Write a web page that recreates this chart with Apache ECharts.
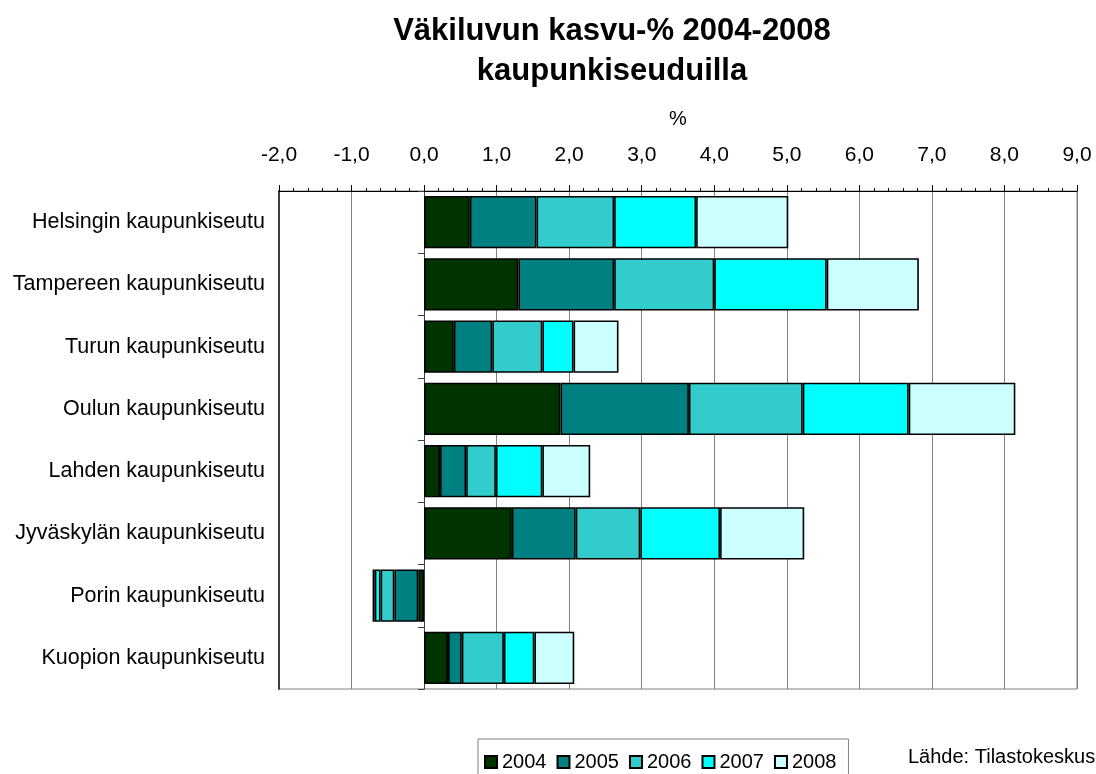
<!DOCTYPE html>
<html>
<head>
<meta charset="utf-8">
<script src="https://cdn.jsdelivr.net/npm/echarts@6/dist/echarts.min.js"></script>
<style>html,body{margin:0;padding:0;background:#fff}#chart{width:1096px;height:774px}</style>
</head>
<body>
<div id="chart"></div>
<script>
var categories = ['Helsingin kaupunkiseutu','Tampereen kaupunkiseutu','Turun kaupunkiseutu','Oulun kaupunkiseutu','Lahden kaupunkiseutu','Jyväskylän kaupunkiseutu','Porin kaupunkiseutu','Kuopion kaupunkiseutu'];
var years = ['2004','2005','2006','2007','2008'];
var v2004 = [0.63, 1.30, 0.41, 1.88, 0.22, 1.21, -0.08, 0.33];
var v2005 = [0.92, 1.32, 0.53, 1.77, 0.36, 0.88, -0.33, 0.19];
var v2006 = [1.07, 1.38, 0.69, 1.57, 0.41, 0.89, -0.19, 0.58];
var v2007 = [1.13, 1.55, 0.43, 1.46, 0.64, 1.10, -0.08, 0.42];
var v2008 = [1.27, 1.27, 0.62, 1.47, 0.66, 1.16, -0.03, 0.55];
var colors = ['#003300', '#008080', '#33CCCC', '#00FFFF', '#CCFFFF'];
var titleText = 'Väkiluvun kasvu-% 2004-2008\nkaupunkiseuduilla';
var sourceText = 'Lähde: Tilastokeskus';

var FONT = "'Liberation Sans', Arial, sans-serif";
var values = [v2004, v2005, v2006, v2007, v2008];
var series = years.map(function (y, i) {
  return {
    name: y, type: 'bar', stack: 'total', yAxisIndex: 0,
    data: values[i], barCategoryGap: '16%',
    itemStyle: { color: colors[i], borderColor: '#000', borderWidth: 1.6 }
  };
});

var chart = echarts.init(document.getElementById('chart'));
chart.setOption({
  animation: false,
  backgroundColor: '#fff',
  textStyle: { fontFamily: FONT },
  grid: { left: 279, right: 19, top: 191, bottom: 85, show: true, borderColor: '#808080', borderWidth: 1 },
  xAxis: {
    type: 'value', position: 'top', min: -2, max: 9, interval: 1,
    name: '%', nameLocation: 'middle', nameGap: 62,
    nameTextStyle: { fontSize: 20, color: '#000', fontFamily: FONT },
    axisLine: { show: true, lineStyle: { color: '#000', width: 1 } },
    axisTick: { show: true, length: 6, lineStyle: { color: '#000' } },
    minorTick: { show: true, splitNumber: 5, length: 3, lineStyle: { color: '#000' } },
    splitLine: { show: true, lineStyle: { color: '#808080', width: 1 } },
    axisLabel: { fontSize: 21, color: '#000', margin: 25, fontFamily: FONT,
      formatter: function (v) { return v.toFixed(1).replace('.', ','); } }
  },
  yAxis: [{
    type: 'category', inverse: true, data: categories, position: 'left',
    axisLine: { show: true, onZero: false, lineStyle: { color: '#404040', width: 2 } },
    axisTick: { show: false },
    axisLabel: { fontSize: 21.5, color: '#000', margin: 14, fontFamily: FONT }
  }, {
    type: 'category', inverse: true, data: categories, position: 'left',
    axisLine: { show: true, onZero: true, lineStyle: { color: '#404040', width: 1 } },
    axisTick: { show: true, length: 6, lineStyle: { color: '#404040' } },
    axisLabel: { show: false }
  }],
  legend: {
    data: years, left: 478, top: 739, orient: 'horizontal',
    borderColor: '#808080', borderWidth: 1, padding: [13, 12, 20, 6],
    itemWidth: 12, itemHeight: 12, itemGap: 10, icon: 'rect',
    textStyle: { fontSize: 20, color: '#000', fontFamily: FONT }
  },
  graphic: [{
    type: 'text', x: 612, y: 11,
    style: { text: titleText, fill: '#000', font: 'bold 31px ' + FONT, textAlign: 'center', lineHeight: 40 }
  }, {
    type: 'text', left: 908, top: 747,
    style: { text: sourceText, fill: '#000', font: '20px ' + FONT }
  }],
  series: series
});
</script>
</body>
</html>
